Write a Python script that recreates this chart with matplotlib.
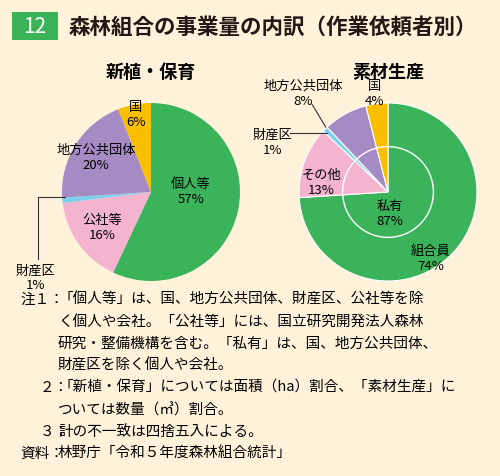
import matplotlib.pyplot as plt
from matplotlib.patches import Rectangle, Circle

plt.rcParams['font.family'] = ['Noto Sans CJK JP', 'DejaVu Sans']

W, H = 500, 476
BG = '#FEF2DA'
GREEN = '#3BB35B'
PINK = '#F4B4D0'
BLUE = '#7DCFF0'
PURPLE = '#A58BC3'
YELLOW = '#F8BE00'

left_labels = ['個人等', '公社等', '財産区', '地方公共団体', '国']
left_values = [57, 16, 1, 20, 6]
left_colors = [GREEN, PINK, BLUE, PURPLE, YELLOW]

right_labels = ['組合員', 'その他', '財産区', '地方公共団体', '国']
right_values = [74, 13, 1, 8, 4]
right_colors = [GREEN, PINK, BLUE, PURPLE, YELLOW]
private_share = 87

notes = [
    ('注１：', '「個人等」は、国、地方公共団体、財産区、公社等を除'),
    ('', 'く個人や会社。「公社等」には、国立研究開発法人森林'),
    ('', '研究・整備機構を含む。「私有」は、国、地方公共団体、'),
    ('', '財産区を除く個人や会社。'),
    ('２：', '「新植・保育」については面積（ha）割合、「素材生産」に'),
    ('', 'ついては数量（㎥）割合。'),
    ('３：', '計の不一致は四捨五入による。'),
    ('資料：', '林野庁「令和５年度森林組合統計」'),
]

fig = plt.figure(figsize=(W / 100, H / 100), dpi=100, facecolor=BG)


def px(x, y):
    return x / W, 1 - y / H


# title bar
fig.patches.append(Rectangle(px(12, 40), 46 / W, 28 / H, transform=fig.transFigure,
                             facecolor=GREEN, edgecolor='none'))
fig.text(*px(35, 27), '12', color='white', fontsize=15, ha='center', va='center')
fig.text(*px(68, 27), '森林組合の事業量の内訳（作業依頼者別）', fontsize=15.5,
         fontweight='bold', ha='left', va='center', color='#231815')


def pie_axes(cx, cy, r):
    x0, y0 = px(cx - r, cy + r)
    ax = fig.add_axes([x0, y0, 2 * r / W, 2 * r / H])
    ax.axis('off')
    return ax


def fix(ax):
    ax.set_xlim(-1, 1)
    ax.set_ylim(-1, 1)
    ax.set_aspect('equal')


R = 89
fs = 9.5
axl = pie_axes(151, 192, R)
axl.pie(left_values, colors=left_colors, startangle=90, counterclock=False, radius=1,
        wedgeprops=dict(linewidth=0))
fix(axl)
axl.text(0.45, 0.0, '個人等\n57%', ha='center', va='center', fontsize=fs, linespacing=1.2)
axl.text(-0.55, -0.4, '公社等\n16%', ha='center', va='center', fontsize=fs, linespacing=1.2)
axl.text(-0.62, 0.38, '地方公共団体\n20%', ha='center', va='center', fontsize=fs, linespacing=1.2)
axl.text(-0.17, 0.87, '国\n6%', ha='center', va='center', fontsize=fs, linespacing=1.2)
axl.text(-1.3, -0.97, '財産区\n1%', ha='center', va='center', fontsize=fs, linespacing=1.2, clip_on=False)
axl.plot([-0.97, -1.27, -1.27], [-0.06, -0.06, -0.75], color='#333333', lw=0.8, clip_on=False)
fig.text(*px(151, 72), '新植・保育', fontsize=13, fontweight='bold', ha='center', va='center')

axr = pie_axes(388, 192, R)
axr.pie(right_values, colors=right_colors, startangle=90, counterclock=False, radius=1,
        wedgeprops=dict(linewidth=0.8, edgecolor='white'))
fix(axr)
axr.add_patch(Circle((0, 0), 0.51, facecolor='none', edgecolor='white', lw=1))
axr.text(0.02, -0.25, f'私有\n{private_share}%', ha='center', va='center', fontsize=fs, linespacing=1.2)
axr.text(0.48, -0.75, '組合員\n74%', ha='center', va='center', fontsize=fs, linespacing=1.2)
axr.text(-0.75, 0.1, 'その他\n13%', ha='center', va='center', fontsize=fs, linespacing=1.2)
axr.text(-1.3, 0.55, '財産区\n1%', ha='center', va='center', fontsize=fs, linespacing=1.2, clip_on=False)
axr.plot([-1.1, -0.68], [0.66, 0.66], color='#333333', lw=0.8, clip_on=False)
axr.text(-0.95, 1.1, '地方公共団体\n8%', ha='center', va='center', fontsize=fs, linespacing=1.2, clip_on=False)
axr.plot([-0.85, -0.7], [0.98, 0.73], color='#333333', lw=0.8, clip_on=False)
axr.text(-0.15, 1.1, '国\n4%', ha='center', va='center', fontsize=fs, linespacing=1.2, clip_on=False)
fig.text(*px(388, 72), '素材生産', fontsize=13, fontweight='bold', ha='center', va='center')

# notes
y = 300
for head, body in notes:
    if head:
        hx = 20 if head in ('注１：', '資料：') else 40
        fig.text(*px(hx, y), head, fontsize=10.5, ha='left', va='center')
    fig.text(*px(58, y), body, fontsize=10.5, ha='left', va='center')
    y += 22

fig.savefig('out.png', dpi=100, facecolor=BG)
